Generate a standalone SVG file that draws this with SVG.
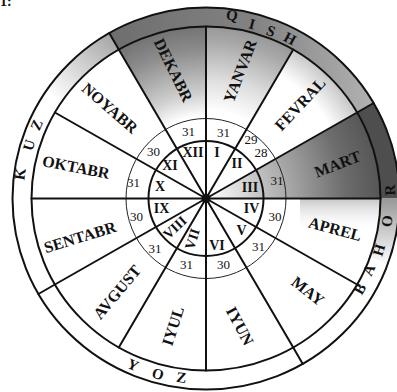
<svg xmlns="http://www.w3.org/2000/svg" width="397" height="392" viewBox="0 0 397 392">
<defs>
<style>
.m{font-family:"Liberation Serif","Times New Roman",serif;font-weight:bold;font-size:16px;text-anchor:middle;dominant-baseline:central;fill:#111}
.r{font-family:"Liberation Serif","Times New Roman",serif;font-weight:bold;font-size:14px;text-anchor:middle;dominant-baseline:central;fill:#111}
.d{font-family:"Liberation Serif","Times New Roman",serif;font-size:13px;text-anchor:middle;dominant-baseline:central;fill:#111}
.s{font-family:"Liberation Serif","Times New Roman",serif;font-weight:bold;font-size:15px;text-anchor:middle;dominant-baseline:central;fill:#111}
.ln{stroke:#111;stroke-width:2;fill:none;stroke-linecap:round}
</style>
<radialGradient id="gDek" gradientUnits="userSpaceOnUse" cx="206" cy="198.5" r="175">
<stop offset="0.47" stop-color="#fff"/><stop offset="0.6" stop-color="#cfcfcf"/><stop offset="0.85" stop-color="#8c8c8c"/><stop offset="1" stop-color="#707070"/>
</radialGradient>
<radialGradient id="gJan" gradientUnits="userSpaceOnUse" cx="206" cy="198.5" r="175">
<stop offset="0.5" stop-color="#fff"/><stop offset="0.68" stop-color="#dedede"/><stop offset="0.9" stop-color="#a8a8a8"/><stop offset="1" stop-color="#959595"/>
</radialGradient>
<radialGradient id="gFeb" gradientUnits="userSpaceOnUse" cx="206" cy="198.5" r="175">
<stop offset="0.82" stop-color="#fff"/><stop offset="1" stop-color="#c4c4c4"/>
</radialGradient>
<radialGradient id="gMar" gradientUnits="userSpaceOnUse" cx="206" cy="198.5" r="175">
<stop offset="0" stop-color="#fff"/><stop offset="0.15" stop-color="#e6e6e6"/><stop offset="0.35" stop-color="#bdbdbd"/><stop offset="0.55" stop-color="#9a9a9a"/><stop offset="0.8" stop-color="#6c6c6c"/><stop offset="1" stop-color="#565656"/>
</radialGradient>
<linearGradient id="gApr" gradientUnits="userSpaceOnUse" x1="0" y1="198" x2="0" y2="232">
<stop offset="0" stop-color="#c4c4c4"/><stop offset="1" stop-color="#fff" stop-opacity="0"/>
</linearGradient>
<linearGradient id="gQish" gradientUnits="userSpaceOnUse" x1="110" y1="0" x2="370" y2="0">
<stop offset="0" stop-color="#6e6e6e"/><stop offset="0.55" stop-color="#828282"/><stop offset="1" stop-color="#b0b0b0"/>
</linearGradient>
<linearGradient id="gNov" gradientUnits="userSpaceOnUse" x1="112" y1="38" x2="55" y2="100">
<stop offset="0" stop-color="#a8a8a8"/><stop offset="1" stop-color="#fff"/>
</linearGradient>
<linearGradient id="gBah" gradientUnits="userSpaceOnUse" x1="0" y1="190" x2="0" y2="265">
<stop offset="0" stop-color="#8a8a8a"/><stop offset="1" stop-color="#fff"/>
</linearGradient>
</defs>
<rect width="397" height="392" fill="#fff"/>

<g id="shading">
<path d="M206,198.5 L206,26.5 A174.5,172 0 0 0 118.75,49.54 Z" fill="url(#gDek)"/>
<path d="M206,198.5 L293.25,49.54 A174.5,172 0 0 0 206,26.5 Z" fill="url(#gJan)"/>
<path d="M206,198.5 L357.1,112.5 A174.5,172 0 0 0 293.25,49.54 Z" fill="url(#gFeb)"/>
<path d="M206,198.5 L380.5,198.5 A174.5,172 0 0 0 357.1,112.5 Z" fill="url(#gMar)"/>
<path d="M300,198.5 L380.5,198.5 A174.5,172 0 0 1 370,257 L300,230 Z" fill="url(#gApr)"/>
<path d="M373.6,103 A193.5,191 0 0 0 109.25,33.1 L118.75,49.54 A174.5,172 0 0 1 357.1,112.5 Z" fill="url(#gQish)"/>
<path d="M399.5,198.5 A193.5,191 0 0 0 373.6,103 L357.1,112.5 A174.5,172 0 0 1 380.5,198.5 Z" fill="#4e4e4e"/>
<path d="M109.25,33.1 A193.5,191 0 0 0 38.4,103 L54.9,112.5 A174.5,172 0 0 1 118.75,49.54 Z" fill="url(#gNov)"/>
<path d="M399.5,198.5 A193.5,191 0 0 1 387.8,264 L370,257.3 A174.5,172 0 0 0 380.5,198.5 Z" fill="url(#gBah)"/>
</g>

<g id="rings">
<ellipse cx="206" cy="198.5" rx="193.5" ry="191" class="ln" stroke-width="2.2"/>
<ellipse cx="206" cy="198.5" rx="174.5" ry="172" class="ln"/>
<circle cx="206" cy="198.5" r="80" fill="none" stroke="#222" stroke-width="1"/>
<circle cx="206" cy="198.5" r="57.5" class="ln"/>
</g>

<g id="connectors">
<line class="ln" x1="31.5" y1="198.5" x2="380.5" y2="198.5"/>
<line class="ln" x1="206" y1="26.5" x2="206" y2="370.5"/>
<line class="ln" x1="357.1" y1="112.5" x2="54.9" y2="284.5"/>
<line class="ln" x1="293.25" y1="49.54" x2="118.75" y2="347.46"/>
<line class="ln" x1="118.75" y1="49.54" x2="293.25" y2="347.46"/>
<line class="ln" x1="54.9" y1="112.5" x2="357.1" y2="284.5"/>
<line class="ln" x1="357.1" y1="112.5" x2="373.6" y2="103"/>
<line class="ln" x1="118.75" y1="49.54" x2="109.25" y2="33.1"/>
<line class="ln" x1="54.9" y1="284.5" x2="38.4" y2="294"/>
<line class="ln" x1="293.25" y1="347.46" x2="302.75" y2="363.9"/>
<circle cx="206" cy="198.5" r="4.5" fill="#111"/>
</g>

<g id="months">
<text class="m" transform="translate(240,71) rotate(-69)">YANVAR</text>
<text class="m" transform="translate(300,104) rotate(-47)">FEVRAL</text>
<text class="m" transform="translate(337.5,164) rotate(-21)">MART</text>
<text class="m" transform="translate(335,229) rotate(15)">APREL</text>
<text class="m" transform="translate(308,291) rotate(38)">MAY</text>
<text class="m" transform="translate(240,326) rotate(62)">IYUN</text>
<text class="m" transform="translate(173,326) rotate(-72)">IYUL</text>
<text class="m" transform="translate(117,292) rotate(-50)">AVGUST</text>
<text class="m" transform="translate(80,237) rotate(-17)">SENTABR</text>
<text class="m" transform="translate(76,167) rotate(11)">OKTABR</text>
<text class="m" transform="translate(110,108) rotate(41)">NOYABR</text>
<text class="m" transform="translate(173.5,70) rotate(64)">DEKABR</text>
</g>

<g id="numerals">
<text class="r" transform="translate(193,152.5)">XII</text>
<text class="r" transform="translate(217,152.5)">I</text>
<text class="r" transform="translate(237,163.5)">II</text>
<text class="r" transform="translate(250,187)">III</text>
<text class="r" transform="translate(251.5,208.5)">IV</text>
<text class="r" transform="translate(241.5,230)">V</text>
<text class="r" transform="translate(217,245)">VI</text>
<text class="r" transform="translate(192.5,239) rotate(-72)">VII</text>
<text class="r" transform="translate(175,227.5) rotate(-43)">VIII</text>
<text class="r" transform="translate(161.5,208.5)">IX</text>
<text class="r" transform="translate(160,186)">X</text>
<text class="r" transform="translate(170,165)">XI</text>
</g>

<g id="days">
<text class="d" x="188.5" y="131.5">31</text>
<text class="d" x="223.5" y="132.5">31</text>
<text class="d" x="251" y="139.5">29</text>
<text class="d" x="261" y="152">28</text>
<text class="d" x="277" y="180">31</text>
<text class="d" x="275" y="216.5">30</text>
<text class="d" x="258.5" y="246.5">31</text>
<text class="d" x="223.5" y="264">30</text>
<text class="d" x="186.5" y="264">31</text>
<text class="d" x="155" y="248.5">31</text>
<text class="d" x="136.5" y="216">30</text>
<text class="d" x="133.5" y="182.5">31</text>
<text class="d" x="153.5" y="151.5">30</text>
</g>

<g id="seasons">
<text class="s" transform="translate(232,15) rotate(8)">Q</text>
<text class="s" transform="translate(252,24) rotate(15)">I</text>
<text class="s" transform="translate(271,31) rotate(21)">S</text>
<text class="s" transform="translate(290,38.5) rotate(28)">H</text>
<text class="s" transform="translate(360,289) rotate(-60)">B</text>
<text class="s" transform="translate(369,270) rotate(-66)">A</text>
<text class="s" transform="translate(379,250) rotate(-73)">H</text>
<text class="s" transform="translate(387,221) rotate(-83)">O</text>
<text class="s" transform="translate(390,190) rotate(-93)">R</text>
<text class="s" transform="translate(133,365) rotate(24)">Y</text>
<text class="s" transform="translate(158,374) rotate(15)">O</text>
<text class="s" transform="translate(181.5,377.5) rotate(8)">Z</text>
<text class="s" transform="translate(20,174) rotate(-82)">K</text>
<text class="s" transform="translate(29,145) rotate(-73)">U</text>
<text class="s" transform="translate(36.5,125) rotate(-67)">Z</text>
</g>

<text x="0" y="6" font-family="Liberation Serif, serif" font-weight="bold" font-size="14" fill="#111">1:</text>
</svg>
